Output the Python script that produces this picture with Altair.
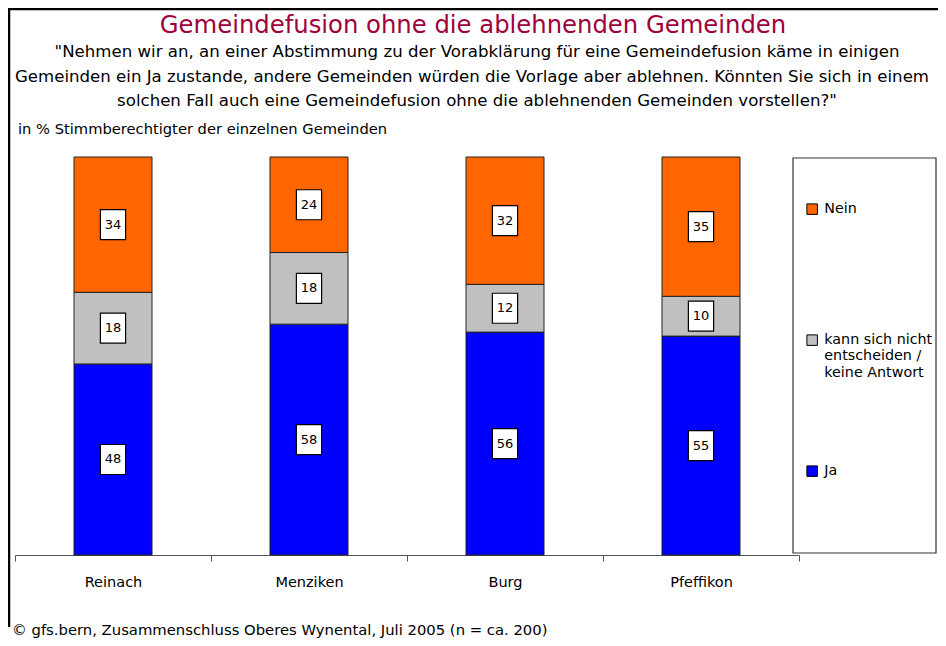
import altair as alt
import pandas as pd

# ---- data ----
gemeinden = ["Reinach", "Menziken", "Burg", "Pfeffikon"]
antworten = ["Nein", "kann sich nicht entscheiden / keine Antwort", "Ja"]
ja = [48, 58, 56, 55]
weiss_nicht = [18, 18, 12, 10]
nein = [34, 24, 32, 35]
farben = ["#FF6600", "#C0C0C0", "#0000FF"]

titel = "Gemeindefusion ohne die ablehnenden Gemeinden"
frage = [
    '"Nehmen wir an, an einer Abstimmung zu der Vorabklärung für eine Gemeindefusion käme in einigen',
    "Gemeinden ein Ja zustande, andere Gemeinden würden die Vorlage aber ablehnen. Könnten Sie sich in einem",
    'solchen Fall auch eine Gemeindefusion ohne die ablehnenden Gemeinden vorstellen?"',
]
einheit = "in % Stimmberechtigter der einzelnen Gemeinden"
quelle = "© gfs.bern, Zusammenschluss Oberes Wynental, Juli 2005 (n = ca. 200)"

# ---- build stacked table (Ja bottom, kann middle, Nein top) ----
rows = []
series = [(antworten[2], ja), (antworten[1], weiss_nicht), (antworten[0], nein)]
for i, g in enumerate(gemeinden):
    start = 0
    for k, (ans, vals) in enumerate(series):
        v = vals[i]
        rows.append(dict(gemeinde=g, antwort=ans, wert=v, start=start,
                         end=start + v, mid=start + v / 2, ord=k))
        start += v
df = pd.DataFrame(rows)

W, H = 784, 398
FONT = "DejaVu Sans"

x_enc = alt.X(
    "gemeinde:N", sort=gemeinden,
    scale=alt.Scale(paddingInner=0, paddingOuter=0),
    axis=alt.Axis(title=None, labelAngle=0, tickBand="extent", grid=False,
                  domainColor="#555555", tickColor="#555555", tickSize=6,
                  labelPadding=14, labelFont=FONT, labelFontSize=14.5,
                  labelColor="black"),
)
y_scale = alt.Scale(domain=[0, 100], nice=False)

leg_label = (
    "datum.label == 'Nein' ? ['Nein', ' ', ' '] : "
    "datum.label == '" + antworten[1] + "' ? ['kann sich nicht', 'entscheiden /', 'keine Antwort'] : datum.label"
)

bars = alt.Chart(df).mark_bar(width=78, stroke="#222222", strokeWidth=1, opacity=1).encode(
    x=x_enc,
    y=alt.Y("start:Q", scale=y_scale, axis=None),
    y2="end:Q",
    color=alt.Color(
        "antwort:N",
        scale=alt.Scale(domain=antworten, range=farben),
        legend=alt.Legend(
            title=None, orient="none", legendX=790, legendY=45,
            padding=0, symbolType="square", symbolSize=110,
            symbolStrokeColor="black", symbolStrokeWidth=1,
            labelFont=FONT, labelFontSize=14.3, labelColor="black",
            labelOffset=5, rowPadding=82, labelLimit=200,
            labelExpr=leg_label, labelBaseline="middle",
        ),
    ),
    order=alt.Order("ord:Q"),
)

box_shape = "M-0.84,-1L0.84,-1L0.84,1L-0.84,1Z"
boxes = alt.Chart(df).mark_point(
    shape=box_shape, size=900, filled=True, fill="white", stroke="black",
    strokeWidth=1.2, opacity=1,
).encode(x=x_enc, y=alt.Y("mid:Q", scale=y_scale, axis=None))

labels = alt.Chart(df).mark_text(
    font=FONT, fontSize=13, color="black", baseline="middle"
).encode(x=x_enc, y=alt.Y("mid:Q", scale=y_scale, axis=None), text="wert:Q")

one = alt.Data(values=[{}])

legend_box = alt.Chart(one).mark_rect(fill="white", stroke="#333333", strokeWidth=1.2).encode(
    x=alt.value(778), x2=alt.value(921), y=alt.value(1), y2=alt.value(396)
)

def txt(text, x, y, size, font=FONT, color="black", align="center"):
    return alt.Chart(one).mark_text(
        font=font, fontSize=size, color=color, align=align, baseline="middle"
    ).encode(x=alt.value(x), y=alt.value(y), text=alt.value(text))

title_layer = txt(titel, 458, -131, 24.3, color="#A0003C")
q1 = txt(frage[0], 462, -105, 16.6)
q2 = txt(frage[1], 457, -80, 16.6)
q3 = txt(frage[2], 462, -56, 16.6)
unit = txt(einheit, 3, -27, 14.7, align="left")
src = txt(quelle, -3, 474, 14.8, align="left")

frame_left = alt.Chart(one).mark_rule(color="black", strokeWidth=2.5).encode(
    x=alt.value(-6), y=alt.value(-148), y2=alt.value(470)
)
frame_top = alt.Chart(one).mark_rule(color="black", strokeWidth=2.5).encode(
    x=alt.value(-7), x2=alt.value(923), y=alt.value(-148)
)

chart = alt.layer(
    legend_box, bars, boxes, labels, title_layer, q1, q2, q3, unit, src,
    frame_left, frame_top,
).properties(
    width=W, height=H,
    padding={"left": 7, "top": 149, "right": 139, "bottom": 83},
    autosize=alt.AutoSizeParams(type="none"),
).configure_view(strokeWidth=0)

chart.save("out.html", embed_options={"renderer": "svg", "actions": False})
